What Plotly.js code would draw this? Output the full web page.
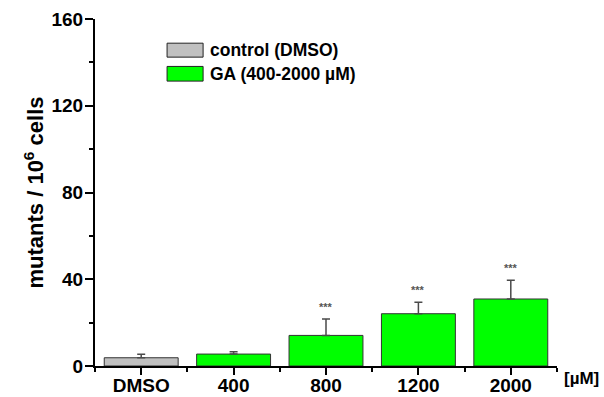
<!DOCTYPE html>
<html>
<head>
<meta charset="utf-8">
<script src="https://cdn.plot.ly/plotly-3.0.1.min.js"></script>
<style>
html,body{margin:0;padding:0;background:#fff;}
#chart{width:604px;height:397px;}
</style>
</head>
<body>
<div id="chart"></div>
<script>
// ---- data ----
const categories = ['DMSO', '400', '800', '1200', '2000'];
const controlCategories = ['DMSO'];
const controlValues = [3.8];
const controlErrors = [1.6];
const gaCategories = ['400', '800', '1200', '2000'];
const gaValues = [5.5, 14.1, 24.1, 30.9];
const gaErrors = [1.1, 7.6, 5.3, 8.6];
const gaSignificance = ['', '***', '***', '***'];
const seriesNames = ['control (DMSO)', 'GA (400-2000 µM)'];
const yTickValues = [0, 40, 80, 120, 160];
const unitLabel = '[µM]';

// ---- styling ----
const FONT = 'Liberation Sans, Arial, Helvetica, sans-serif';
const grayFill = '#c0c0c0';
const greenFill = '#00ff00';
const barEdge = '#333333';
const errColor = '#4a4a4a';

const idx = c => categories.indexOf(c);

const traces = [
  {
    type: 'bar',
    name: seriesNames[0],
    x: controlCategories.map(idx),
    y: controlValues,
    width: 0.8,
    marker: {color: grayFill, line: {color: barEdge, width: 1}},
    error_y: {type: 'data', symmetric: false, array: controlErrors,
              arrayminus: controlErrors.map(() => 0),
              color: errColor, thickness: 1.5, width: 4},
    showlegend: false,
    hoverinfo: 'y'
  },
  {
    type: 'bar',
    name: seriesNames[1],
    x: gaCategories.map(idx),
    y: gaValues,
    width: 0.8,
    marker: {color: greenFill, line: {color: barEdge, width: 1}},
    error_y: {type: 'data', symmetric: false, array: gaErrors,
              arrayminus: gaErrors.map(() => 0),
              color: errColor, thickness: 1.5, width: 4},
    showlegend: false,
    hoverinfo: 'y'
  }
];

// significance marks above error bars
const annotations = [];
gaCategories.forEach((c, i) => {
  if (!gaSignificance[i]) return;
  annotations.push({
    x: idx(c), y: gaValues[i] + gaErrors[i], xref: 'x', yref: 'y',
    text: gaSignificance[i], showarrow: false, yanchor: 'bottom', yshift: 4,
    font: {family: FONT, size: 11, color: '#555555', weight: 'bold'}
  });
});

// hand-drawn legend (large swatches as in the original)
const legendFills = [grayFill, greenFill];
const legendTop = [0.9303, 0.8633];
const legendBottom = [0.8901, 0.8210];
const shapes = [];
legendFills.forEach((f, i) => {
  shapes.push({type: 'rect', xref: 'paper', yref: 'paper',
    x0: 0.156, x1: 0.234, y0: legendBottom[i], y1: legendTop[i],
    fillcolor: f, line: {color: '#222222', width: 1}});
  annotations.push({xref: 'paper', yref: 'paper', x: 0.2446,
    y: (legendTop[i] + legendBottom[i]) / 2, xanchor: 'left', yanchor: 'middle',
    text: seriesNames[i], showarrow: false,
    font: {family: FONT, size: 17.5, color: '#000', weight: 'bold'}});
});

annotations.push({xref: 'paper', yref: 'paper', x: 1.010, y: -0.036,
  xanchor: 'left', yanchor: 'middle', text: unitLabel, showarrow: false,
  font: {family: FONT, size: 17, color: '#000', weight: 'bold'}});

const layout = {
  width: 604, height: 397,
  margin: {l: 95, r: 47, t: 18.5, b: 31},
  paper_bgcolor: '#fff', plot_bgcolor: '#fff',
  font: {family: FONT, color: '#000', weight: 'bold'},
  barmode: 'overlay',
  showlegend: false,
  xaxis: {
    type: 'linear',
    range: [-0.5, categories.length - 0.5],
    tickmode: 'array',
    tickvals: categories.map((c, i) => i),
    ticktext: categories,
    showgrid: false, zeroline: false,
    showline: true, linecolor: '#000', linewidth: 2,
    ticks: 'outside', ticklen: 7, tickwidth: 2, tickcolor: '#000',
    ticklabelstandoff: -6,
    tickfont: {family: FONT, size: 19, color: '#000', weight: 'bold'},
    minor: {tickmode: 'linear', tick0: -0.5, dtick: 1, ticks: 'outside',
            ticklen: 4, tickwidth: 2, tickcolor: '#000', showgrid: false},
    fixedrange: true
  },
  yaxis: {
    range: [0, 160],
    tickmode: 'array',
    tickvals: yTickValues,
    showgrid: false, zeroline: false,
    showline: true, linecolor: '#000', linewidth: 2,
    ticks: 'outside', ticklen: 8, tickwidth: 2, tickcolor: '#000',
    ticklabelstandoff: -2,
    tickfont: {family: FONT, size: 19, color: '#000', weight: 'bold'},
    minor: {tickmode: 'linear', tick0: 0, dtick: 20, ticks: 'outside',
            ticklen: 4, tickwidth: 2, tickcolor: '#000', showgrid: false},
    title: {text: 'mutants / 10<sup>6</sup> cells', standoff: 2,
            font: {family: FONT, size: 22, color: '#000', weight: 'bold'}},
    fixedrange: true
  },
  shapes: shapes,
  annotations: annotations
};

Plotly.newPlot('chart', traces, layout, {displayModeBar: false, staticPlot: true});
</script>
</body>
</html>
